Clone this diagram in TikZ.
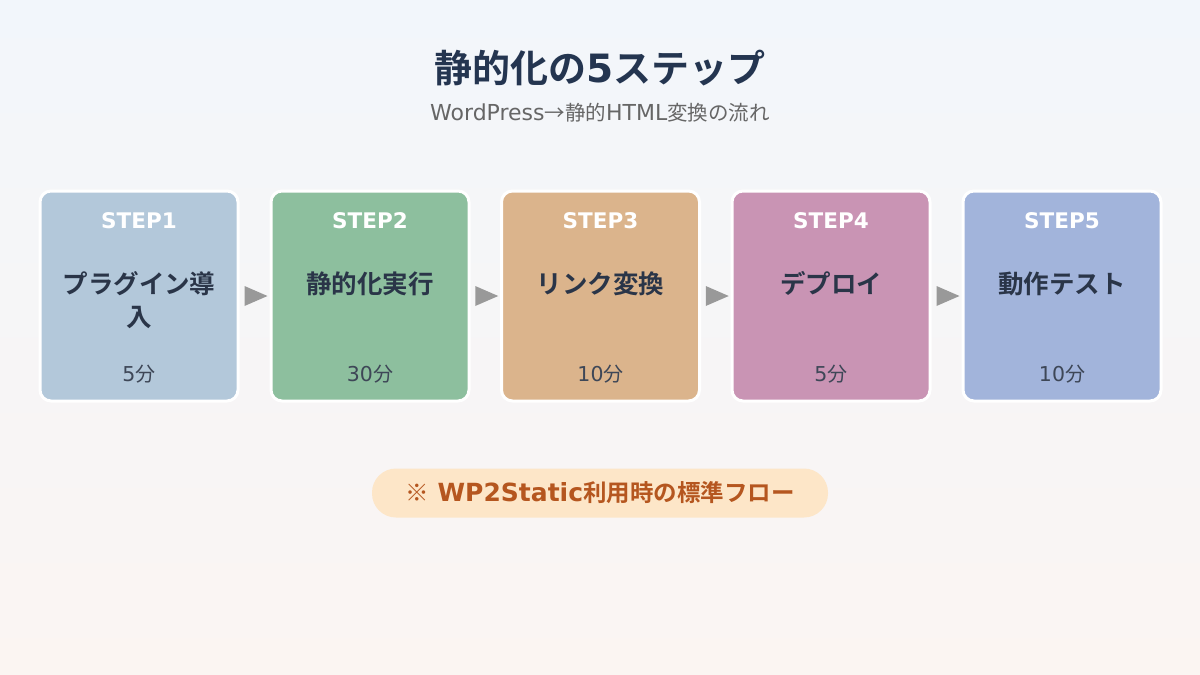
\documentclass[tikz,border=0pt]{standalone}
\usepackage{fontspec}
\setmainfont{Noto Sans CJK JP}
\newfontfamily\cjkb{Noto Sans CJK JP Bold}
\newfontfamily\dv{DejaVu Sans}
\newfontfamily\dvb{DejaVu Sans Bold}
\newcommand{\lt}[2]{{\dv\fontsize{#1}{#1}\selectfont #2}}
\newcommand{\ltb}[2]{{\dvb\fontsize{#1}{#1}\selectfont #2}}
\usetikzlibrary{calc}
\definecolor{bgtop}{HTML}{F2F6FB}
\definecolor{bgbot}{HTML}{FBF5F2}
\definecolor{titlec}{HTML}{243550}
\definecolor{subc}{HTML}{666666}
\definecolor{labc}{HTML}{2A3548}
\definecolor{timec}{HTML}{3E4757}
\definecolor{arrc}{HTML}{999999}
\definecolor{pillf}{HTML}{FDE6C8}
\definecolor{pillt}{HTML}{B5561F}
\definecolor{cA}{HTML}{B3C8DA}
\definecolor{cB}{HTML}{8DBF9E}
\definecolor{cC}{HTML}{DBB48C}
\definecolor{cD}{HTML}{C994B4}
\definecolor{cE}{HTML}{A2B4DB}
\tikzset{
  stepbox/.style={draw=white, line width=3pt, rounded corners=11pt, minimum width=198pt, minimum height=210pt, inner sep=0pt},
  steplab/.style={text=white, font=\dvb\fontsize{21.5}{24}\selectfont},
  mainlab/.style={text=labc, font=\cjkb\fontsize{25.5}{33}\selectfont, align=center},
  timelab/.style={text=timec, font=\fontsize{20}{24}\selectfont},
  arrowtri/.style={fill=arrc}
}
\begin{document}
\begin{tikzpicture}[x=1pt,y=-1pt]
\useasboundingbox (0,0) rectangle (1200,675);
\shade[top color=bgtop, bottom color=bgbot] (0,0) rectangle (1200,675);
\node[text=titlec, font=\cjkb\fontsize{38}{44}\selectfont] (title) at (600,68) {静的化の\ltb{39}{5}ステップ};
\node[text=subc, font=\fontsize{20.5}{24}\selectfont] (sub) at (600,113) {\lt{22}{WordPress}→静的\lt{22}{HTML}変換の流れ};
\foreach \i/\x/\c/\s/\m/\t in {1/139/cA/STEP1/{プラグイン導\\入}/5, 2/370/cB/STEP2/静的化実行/30, 3/600.5/cC/STEP3/リンク変換/10, 4/831/cD/STEP4/デプロイ/5, 5/1062/cE/STEP5/動作テスト/10}{
  \node[stepbox, fill=\c] (b\i) at (\x,296) {};
  \node[steplab] (s\i) at (\x,221) {\s};
  \node[mainlab, anchor=north] (m\i) at (\x,268) {\m};
  \node[timelab] (t\i) at (\x,374) {\lt{20.5}{\t}分};
}
\foreach \a/\b in {1/2,2/3,3/4,4/5}{
  \coordinate (mid\a) at ($(b\a.east)!0.5!(b\b.west)$);
  \fill[arrowtri] ($(mid\a)+(-10,-10)$) -- ($(mid\a)+(13,0)$) -- ($(mid\a)+(-10,10)$) -- cycle;
}
\node[fill=pillf, rounded corners=24pt, minimum width=456pt, minimum height=49pt, inner sep=0pt,
  text=pillt, font=\cjkb\fontsize{23.5}{26}\selectfont] (note) at (600,493) {※\ltb{25}{ WP2Static}利用時の標準フロー};
\end{tikzpicture}
\end{document}
